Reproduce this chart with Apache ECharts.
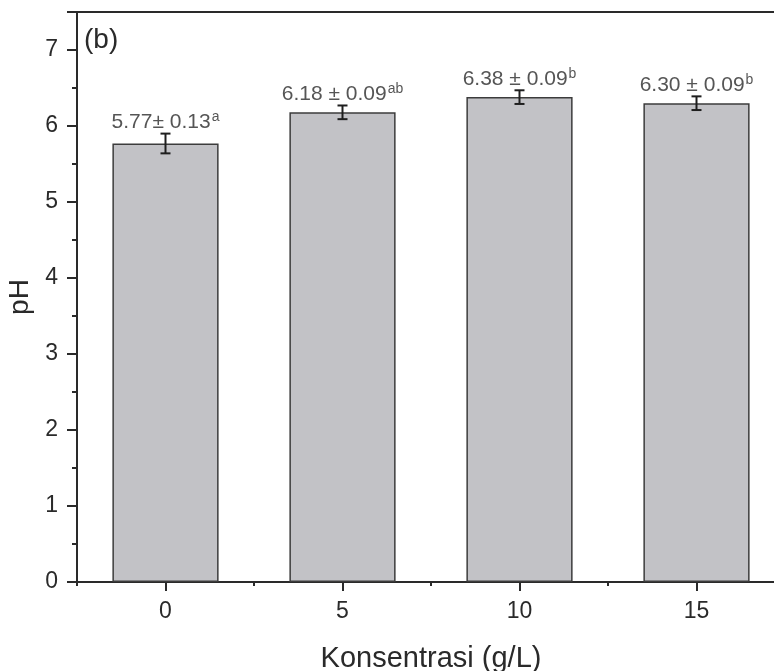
<!DOCTYPE html>
<html>
<head>
<meta charset="utf-8">
<script src="https://cdn.jsdelivr.net/npm/echarts@6/dist/echarts.min.js"></script>
<style>
  html, body { margin: 0; padding: 0; background: #fff; }
  #chart { width: 774px; height: 671px; }
</style>
</head>
<body>
<div id="chart"></div>
<script>
// pH at each concentration (g/L): mean, standard deviation and significance letters
const categories = ['0', '5', '10', '15'];
const phMean = [5.77, 6.18, 6.38, 6.30];
const phSd = [0.13, 0.09, 0.09, 0.09];
const letters = ['a', 'ab', 'b', 'b'];
const separators = ['\u00b1 ', ' \u00b1 ', ' \u00b1 ', ' \u00b1 '];
const yTicks = [0, 1, 2, 3, 4, 5, 6, 7];

const FONT = 'Liberation Sans, Arial, Helvetica, sans-serif';
const INK = '#2a2a2a';

const chart = echarts.init(document.getElementById('chart'), null, { renderer: 'canvas' });

// plot box runs past the right edge of the canvas
const gridBox = { left: 77, width: 708, top: 12, bottom: 89, containLabel: false, outerBoundsMode: 'none' };

const option = {
  animation: false,
  backgroundColor: '#ffffff',
  grid: [
    Object.assign({}, gridBox),
    Object.assign({}, gridBox)
  ],
  xAxis: [
    {
      type: 'category', gridIndex: 0, position: 'bottom', data: categories,
      name: 'Konsentrasi (g/L)', nameLocation: 'middle', nameGap: 62,
      nameTextStyle: { fontFamily: FONT, fontSize: 29, color: INK },
      axisLine: { show: true, lineStyle: { color: INK, width: 2 } },
      axisTick: { show: true, alignWithLabel: true, length: 9, lineStyle: { color: INK, width: 2 } },
      axisLabel: { fontFamily: FONT, fontSize: 23, color: INK, margin: 18 },
      splitLine: { show: false }
    },
    {
      // top frame line
      type: 'category', gridIndex: 0, position: 'top', data: categories,
      axisLine: { show: true, lineStyle: { color: INK, width: 2 } },
      axisTick: { show: false }, axisLabel: { show: false }, splitLine: { show: false }
    },
    {
      // short ticks on the category boundaries
      type: 'category', gridIndex: 1, position: 'bottom', data: categories,
      axisLine: { show: false },
      axisTick: { show: true, alignWithLabel: false, length: 4, lineStyle: { color: INK, width: 2 } },
      axisLabel: { show: false }, splitLine: { show: false }
    }
  ],
  yAxis: [
    {
      type: 'value', gridIndex: 0, min: yTicks[0], max: 7.5, interval: 1,
      name: 'pH', nameLocation: 'middle', nameGap: 36,
      nameTextStyle: { fontFamily: FONT, fontSize: 28, color: INK },
      axisLine: { show: true, lineStyle: { color: INK, width: 2 } },
      axisTick: { show: true, length: 10, lineStyle: { color: INK, width: 2 } },
      minorTick: { show: true, splitNumber: 2, length: 5, lineStyle: { color: INK, width: 2 } },
      axisLabel: {
        fontFamily: FONT, fontSize: 23, color: INK, margin: 19,
        showMaxLabel: false,
        formatter: v => (yTicks.indexOf(v) >= 0 ? String(v) : '')
      },
      splitLine: { show: false }
    },
    {
      type: 'value', gridIndex: 1, min: 0, max: 7.5, show: false
    }
  ],
  graphic: [
    {
      type: 'text', left: 84, top: 26,
      style: { text: '(b)', font: '28px ' + FONT, fill: INK }
    }
  ],
  series: [
    {
      type: 'bar', xAxisIndex: 0, yAxisIndex: 0,
      data: phMean, barWidth: '60%',
      itemStyle: { color: '#c2c2c6', borderColor: '#3c3c3c', borderWidth: 1.5 },
      z: 2
    },
    {
      // error bars
      type: 'custom', xAxisIndex: 0, yAxisIndex: 0,
      data: phMean.map((m, i) => [i, m, phSd[i]]),
      renderItem: function (params, api) {
        const i = api.value(0), m = api.value(1), s = api.value(2);
        const top = api.coord([i, m + s]);
        const bot = api.coord([i, m - s]);
        const cap = 5;
        const st = { stroke: '#1e1e1e', lineWidth: 2 };
        return {
          type: 'group',
          children: [
            { type: 'line', shape: { x1: top[0], y1: top[1], x2: bot[0], y2: bot[1] }, style: st },
            { type: 'line', shape: { x1: top[0] - cap, y1: top[1], x2: top[0] + cap, y2: top[1] }, style: st },
            { type: 'line', shape: { x1: bot[0] - cap, y1: bot[1], x2: bot[0] + cap, y2: bot[1] }, style: st }
          ]
        };
      },
      z: 5
    },
    {
      // value labels above the error bars
      type: 'scatter', xAxisIndex: 0, yAxisIndex: 0,
      symbolSize: 0,
      data: phMean.map((m, i) => [i, m + phSd[i]]),
      label: {
        show: true, position: 'top', distance: -1,
        formatter: p => {
          const i = p.dataIndex;
          return '{m|' + phMean[i].toFixed(2) + separators[i] + phSd[i].toFixed(2) + '}{s|' + letters[i] + '}';
        },
        rich: {
          m: { fontFamily: FONT, fontSize: 21, color: INK },
          s: { fontFamily: FONT, fontSize: 14, color: INK, padding: [0, 0, 10, 1] }
        }
      },
      z: 6
    }
  ]
};

chart.setOption(option);
</script>
</body>
</html>
